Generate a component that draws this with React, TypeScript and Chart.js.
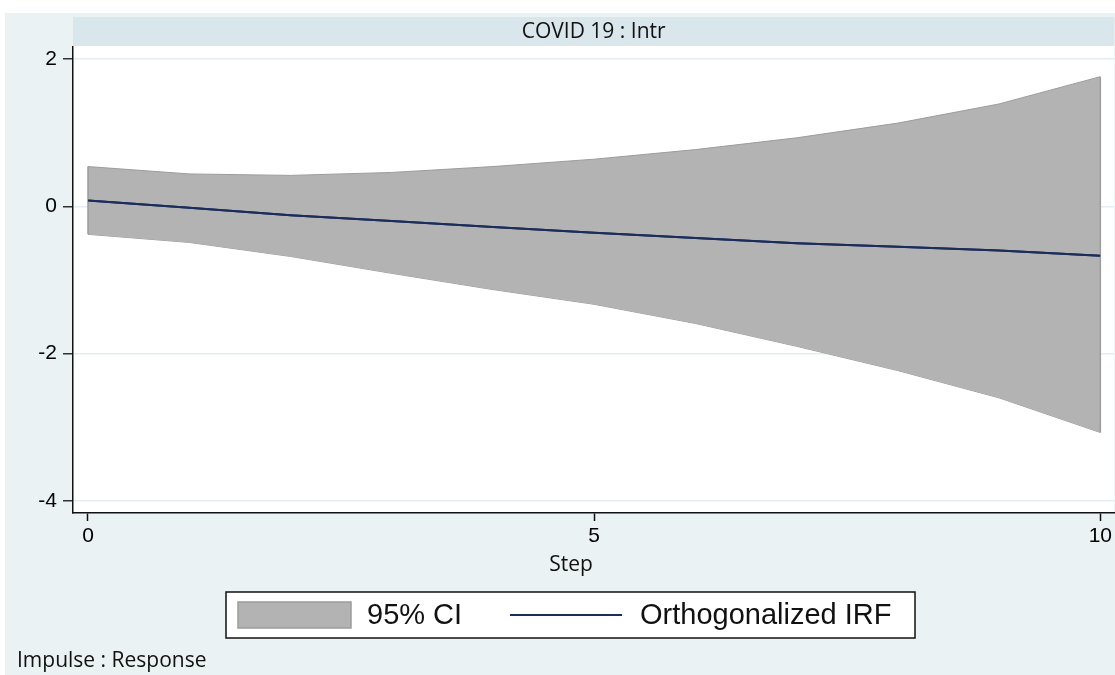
import React, { useEffect, useRef } from "react";
import { Chart, registerables } from "chart.js";

Chart.register(...registerables);

// ---- data ----
const steps = [0, 1, 2, 3, 4, 5, 6, 7, 8, 9, 10];
const irf = [0.08, -0.02, -0.12, -0.2, -0.28, -0.36, -0.43, -0.5, -0.55, -0.6, -0.67];
const ciUpper = [0.54, 0.44, 0.42, 0.46, 0.54, 0.64, 0.77, 0.93, 1.13, 1.39, 1.76];
const ciLower = [-0.38, -0.49, -0.68, -0.91, -1.13, -1.33, -1.59, -1.9, -2.23, -2.6, -3.07];
const xTicks = [0, 5, 10];
const yTicks = [-4, -2, 0, 2];
const panelTitle = "COVID 19 : Intr";
const xTitle = "Step";
const legendLabels = ["95% CI", "Orthogonalized IRF"];
const caption = "Impulse : Response";

// ---- styles ----
const W = 1115;
const H = 675;
const PANEL = "#eaf2f3";
const STRIP = "#d9e6eb";
const BAND = "#b3b3b3";
const BAND_EDGE = "#9c9c9c";
const NAVY = "#1b2d5b";
const TICK_FONT = "'Liberation Sans', Arial, sans-serif";
const TEXT_FONT = "'Open Sans', 'Noto Sans', sans-serif";

Chart.defaults.font.family = TICK_FONT;
Chart.defaults.font.size = 21;
Chart.defaults.color = "#000";

const decor = {
  id: "decor",
  beforeDraw(chart: any) {
    const { ctx, chartArea: a, width, height } = chart;
    ctx.save();
    ctx.fillStyle = "#ffffff";
    ctx.fillRect(0, 0, width, height);
    ctx.fillStyle = PANEL;
    ctx.fillRect(5, 13, width - 5, height - 13);
    ctx.fillStyle = STRIP;
    ctx.fillRect(a.left, 17, a.right - a.left, 29);
    ctx.fillStyle = "#ffffff";
    ctx.fillRect(a.left, a.top - 1, a.right - a.left, a.bottom - a.top + 1);
    ctx.restore();
  },
  afterDatasetsDraw(chart: any) {
    const { ctx, scales } = chart;
    ctx.save();
    ctx.strokeStyle = BAND_EDGE;
    ctx.lineWidth = 1.5;
    [0, steps.length - 1].forEach((i) => {
      const px = scales.x.getPixelForValue(steps[i]);
      ctx.beginPath();
      ctx.moveTo(px, scales.y.getPixelForValue(ciUpper[i]));
      ctx.lineTo(px, scales.y.getPixelForValue(ciLower[i]));
      ctx.stroke();
    });
    ctx.strokeStyle = NAVY;
    ctx.lineWidth = 2;
    ctx.beginPath();
    steps.forEach((s, i) => {
      const px = scales.x.getPixelForValue(s);
      const py = scales.y.getPixelForValue(irf[i]);
      if (i === 0) ctx.moveTo(px, py);
      else ctx.lineTo(px, py);
    });
    ctx.stroke();
    ctx.restore();
  },
  afterDraw(chart: any) {
    const { ctx, chartArea: a } = chart;
    ctx.save();
    ctx.fillStyle = "#111";
    ctx.font = `21px ${TEXT_FONT}`;
    ctx.textAlign = "center";
    ctx.textBaseline = "middle";
    ctx.fillText(panelTitle, (a.left + a.right) / 2, 32);
    ctx.fillText(xTitle, 571, 565);
    ctx.textAlign = "left";
    ctx.textBaseline = "alphabetic";
    ctx.fillText(caption, 17, 667);

    ctx.fillStyle = "#ffffff";
    ctx.fillRect(226, 592, 689, 46);
    ctx.strokeStyle = "#111";
    ctx.lineWidth = 1.5;
    ctx.strokeRect(226, 592, 689, 46);
    ctx.fillStyle = BAND;
    ctx.fillRect(238, 602, 113, 26);
    ctx.strokeStyle = BAND_EDGE;
    ctx.lineWidth = 1.5;
    ctx.strokeRect(238, 602, 113, 26);
    ctx.fillStyle = "#111";
    ctx.font = `29px ${TICK_FONT}`;
    ctx.textBaseline = "middle";
    ctx.fillText(legendLabels[0], 367, 616);
    ctx.strokeStyle = NAVY;
    ctx.lineWidth = 2;
    ctx.beginPath();
    ctx.moveTo(510, 615);
    ctx.lineTo(622, 615);
    ctx.stroke();
    ctx.fillText(legendLabels[1], 640, 616);
    ctx.restore();
  },
};

export default function App() {
  const ref = useRef<HTMLCanvasElement | null>(null);

  useEffect(() => {
    document.body.style.margin = "0";
    const canvas = ref.current;
    if (!canvas) return;
    const chart = new Chart(canvas, {
      type: "line",
      data: {
        datasets: [
          {
            label: legendLabels[1],
            data: steps.map((s, i) => ({ x: s, y: irf[i] })),
            borderColor: NAVY,
            borderWidth: 2,
            pointRadius: 0,
            fill: false,
            order: 0,
          },
          {
            label: legendLabels[0],
            data: steps.map((s, i) => ({ x: s, y: ciUpper[i] })),
            borderColor: BAND_EDGE,
            borderWidth: 1,
            backgroundColor: BAND,
            pointRadius: 0,
            fill: "+1",
            order: 1,
          },
          {
            label: "lower",
            data: steps.map((s, i) => ({ x: s, y: ciLower[i] })),
            borderColor: BAND_EDGE,
            borderWidth: 1,
            pointRadius: 0,
            fill: false,
            order: 2,
          },
        ],
      },
      options: {
        responsive: false,
        animation: false,
        events: [],
        layout: { padding: { top: 47, left: 0, right: 0, bottom: 0 } },
        plugins: {
          legend: { display: false },
          title: { display: false },
          tooltip: { enabled: false },
        },
        scales: {
          x: {
            type: "linear",
            min: -0.148,
            max: 10.138,
            afterBuildTicks: (axis: any) => {
              axis.ticks = xTicks.map((v) => ({ value: v }));
            },
            afterFit: (scale: any) => {
              scale.height = H - 513;
            },
            grid: {
              drawOnChartArea: false,
              drawTicks: true,
              tickLength: 8,
              tickColor: "#111",
              tickWidth: 1.5,
            },
            border: { display: true, color: "#111", width: 1.5 },
            ticks: {
              color: "#000",
              font: { family: TICK_FONT, size: 21 },
              padding: 3,
              maxRotation: 0,
              autoSkip: false,
            },
          },
          y: {
            type: "linear",
            min: -4.163,
            max: 2.163,
            afterBuildTicks: (axis: any) => {
              axis.ticks = yTicks.map((v) => ({ value: v }));
            },
            afterFit: (scale: any) => {
              scale.width = 73;
            },
            grid: {
              drawOnChartArea: true,
              color: "#e4eef1",
              lineWidth: 1.5,
              drawTicks: true,
              tickLength: 10,
              tickColor: "#333",
              tickWidth: 1.5,
            },
            border: { display: true, color: "#111", width: 1.5 },
            ticks: {
              color: "#000",
              font: { family: TICK_FONT, size: 21 },
              padding: 6,
              autoSkip: false,
            },
          },
        },
      },
      plugins: [decor],
    } as any);
    return () => chart.destroy();
  }, []);

  return (
    <div style={{ width: W, height: H, overflow: "hidden" }}>
      <canvas ref={ref} width={W} height={H} style={{ display: "block", width: W, height: H }} />
    </div>
  );
}
